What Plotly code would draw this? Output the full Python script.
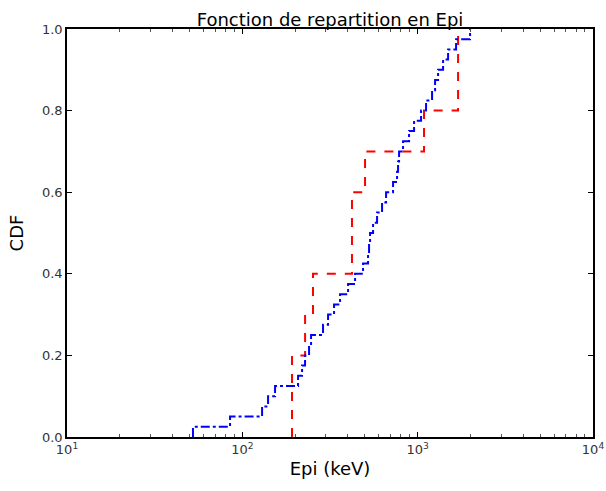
import plotly.graph_objects as go

# Red (dashed) sample: jump positions (keV) and CDF levels after each jump
red_x = [192, 228, 253, 422, 501, 1087, 1700]
red_cdf = [0.2, 0.3, 0.4, 0.6, 0.7, 0.8, 1.0]

# Blue (dash-dot) sample: sorted Epi values (keV), CDF increases by 1/40 at each
blue_x = [52.3, 85.1, 129.6, 140.2, 153.7, 207.9, 219.1, 227.9, 240.2, 246.6,
          288.6, 308.3, 333.5, 360.9, 400.9, 439.5, 488.1, 521.3, 528.2, 535.2,
          556.7, 586.7, 626.5, 660.4, 723.8, 763.0, 773.1, 783.3, 825.5, 893.1,
          953.9, 1045.7, 1116.6, 1208.3, 1256.9, 1307.4, 1396.2, 1491.0, 1656.0, 1990.0]
blue_n = len(blue_x)
blue_cdf = [(i + 1) / blue_n for i in range(blue_n)]

x_tickvals = [10, 100, 1000, 10000]
x_ticktext = ["10<sup>1</sup>", "10<sup>2</sup>", "10<sup>3</sup>", "10<sup>4</sup>"]
x_minor = [m * d for d in (10, 100, 1000) for m in range(2, 10)]
y_tickvals = [0.0, 0.2, 0.4, 0.6, 0.8, 1.0]

fig = go.Figure()
fig.add_trace(go.Scatter(
    x=[red_x[0]] + red_x, y=[0.0] + red_cdf, mode="lines",
    line=dict(color="red", width=2, dash="dash", shape="hv"), showlegend=False))
fig.add_trace(go.Scatter(
    x=[blue_x[0]] + blue_x, y=[0.0] + blue_cdf, mode="lines",
    line=dict(color="blue", width=2, dash="dashdot", shape="hv"), showlegend=False))

font = "DejaVu Sans, Arial, sans-serif"
fig.update_layout(
    width=606, height=491,
    margin=dict(l=67, r=13, t=29, b=54),
    paper_bgcolor="white", plot_bgcolor="white",
    font=dict(family=font, color="black", size=13),
    title=dict(text="Fonction de repartition en Epi", x=0.5, xref="paper", xanchor="center",
               y=1, yref="paper", yanchor="bottom", pad=dict(b=3),
               font=dict(size=18, family=font, color="black")),
    xaxis=dict(type="log", range=[1, 4], tickvals=x_tickvals, ticktext=x_ticktext,
               automargin=False, ticklabeloverflow="allow",
               showgrid=False, zeroline=False, showline=True, linecolor="black",
               linewidth=1.5, mirror="allticks", ticks="inside", ticklen=5,
               tickcolor="black", tickfont=dict(size=13, color="#333"),
               minor=dict(ticks="inside", ticklen=3, tickcolor="#555", tickvals=x_minor,
                          showgrid=False),
               title=dict(text="Epi (keV)", font=dict(size=18, family=font), standoff=6)),
    yaxis=dict(range=[0, 1], tickvals=y_tickvals, tickformat=".1f",
               automargin=False,
               showgrid=False, zeroline=False, showline=True, linecolor="black",
               linewidth=1.5, mirror="allticks", ticks="inside", ticklen=5,
               tickcolor="black", tickfont=dict(size=13, color="#333"),
               title=dict(text="CDF", font=dict(size=18, family=font), standoff=14)),
)

fig.write_html("out.html", config={"displayModeBar": False},
               post_script="document.body.style.margin='0';document.body.style.overflow='hidden';")
